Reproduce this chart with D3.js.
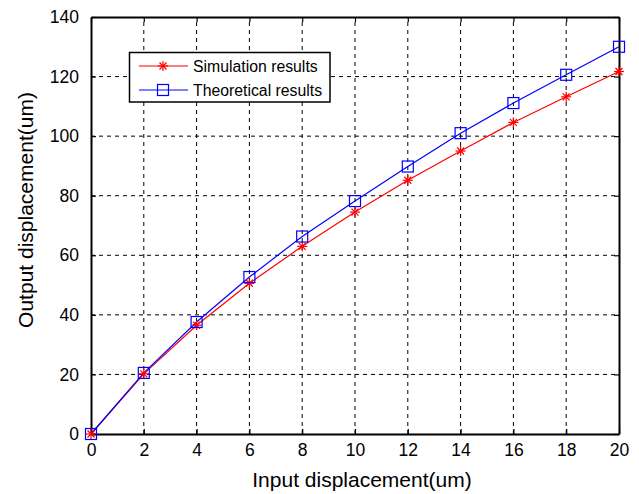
<!DOCTYPE html>
<html>
<head>
<meta charset="utf-8">
<script src="https://cdn.jsdelivr.net/npm/d3@7"></script>
<style>
  body { margin: 0; background: #fff; }
  text { font-family: "Liberation Sans", Arial, sans-serif; }
</style>
</head>
<body>
<svg id="chart" width="639" height="494"></svg>
<script>
// input displacement (um)
const inputs = [0, 2, 4, 6, 8, 10, 12, 14, 16, 18, 20];
// output displacement (um)
const simulation = [0, 20.2, 36.5, 50.6, 63, 74.5, 85.2, 95, 104.6, 113.2, 121.7];
const theoretical = [0, 20.5, 37.6, 52.7, 66.3, 78.2, 89.8, 101, 111.1, 120.6, 130];
const xTicks = [0, 2, 4, 6, 8, 10, 12, 14, 16, 18, 20];
const yTicks = [0, 20, 40, 60, 80, 100, 120, 140];

const svg = d3.select('#chart');
const pLeft = 91, pRight = 619, pTop = 17, pBottom = 434;

const x = d3.scaleLinear().domain([0, 20]).range([pLeft, pRight]);
const y = d3.scaleLinear().domain([0, 140]).range([pBottom, pTop]);

// dashed grid
const grid = svg.append('g').attr('stroke', '#000').attr('stroke-width', 1)
  .attr('stroke-dasharray', '4,4');
xTicks.slice(1, -1).forEach(t => {
  grid.append('line').attr('x1', x(t)).attr('x2', x(t)).attr('y1', pBottom).attr('y2', pTop);
});
yTicks.slice(1, -1).forEach(t => {
  grid.append('line').attr('x1', pLeft).attr('x2', pRight).attr('y1', y(t)).attr('y2', y(t));
});

// axes with inward ticks
const xAxis = svg.append('g').attr('transform', `translate(0,${pBottom})`)
  .call(d3.axisBottom(x).tickValues(xTicks).tickSizeInner(-5).tickSizeOuter(0).tickPadding(6));
const yAxis = svg.append('g').attr('transform', `translate(${pLeft},0)`)
  .call(d3.axisLeft(y).tickValues(yTicks).tickSizeInner(-5).tickSizeOuter(0).tickPadding(12));
const xTop = svg.append('g').attr('transform', `translate(0,${pTop})`)
  .call(d3.axisTop(x).tickValues(xTicks).tickSizeInner(-5).tickSizeOuter(0).tickFormat(''));
const yRight = svg.append('g').attr('transform', `translate(${pRight},0)`)
  .call(d3.axisRight(y).tickValues(yTicks).tickSizeInner(-5).tickSizeOuter(0).tickFormat(''));

[xAxis, yAxis, xTop, yRight].forEach(a => {
  a.select('.domain').attr('stroke', '#000').attr('stroke-width', 2);
  a.selectAll('.tick line').attr('stroke', '#000').attr('stroke-width', 1.2);
  a.selectAll('.tick text').attr('fill', '#000').style('font-size', '17.5px')
    .style('font-family', '"Liberation Sans", Arial, sans-serif');
});
// put x tick label baselines near y=456
xAxis.selectAll('.tick text').attr('dy', null).attr('y', 22);

// axis titles
svg.append('text').attr('x', 362).attr('y', 487)
  .attr('text-anchor', 'middle').style('font-size', '21px').text('Input displacement(um)');
svg.append('text').attr('transform', 'translate(33,210) rotate(-90)')
  .attr('text-anchor', 'middle').style('font-size', '21px').text('Output displacement(um)');

const line = d3.line().x((d, i) => x(inputs[i])).y(d => y(d));

function starMarker(g, cx, cy, color) {
  const s = 5;
  const m = g.append('g').attr('transform', `translate(${cx},${cy})`)
    .attr('stroke', color).attr('stroke-width', 1.2);
  m.append('line').attr('x1', -s).attr('x2', s).attr('y1', 0).attr('y2', 0);
  m.append('line').attr('x1', 0).attr('x2', 0).attr('y1', -s).attr('y2', s);
  m.append('line').attr('x1', -s * 0.7).attr('x2', s * 0.7).attr('y1', -s * 0.7).attr('y2', s * 0.7);
  m.append('line').attr('x1', -s * 0.7).attr('x2', s * 0.7).attr('y1', s * 0.7).attr('y2', -s * 0.7);
}
function squareMarker(g, cx, cy, color) {
  g.append('rect').attr('x', cx - 5.5).attr('y', cy - 5.5).attr('width', 11).attr('height', 11)
    .attr('fill', 'none').attr('stroke', color).attr('stroke-width', 1.2);
}

const plot = svg.append('g');
plot.append('path').datum(simulation).attr('d', line)
  .attr('fill', 'none').attr('stroke', '#ff0000').attr('stroke-width', 1.2);
plot.append('path').datum(theoretical).attr('d', line)
  .attr('fill', 'none').attr('stroke', '#0000ff').attr('stroke-width', 1.2);
simulation.forEach((v, i) => starMarker(plot, x(inputs[i]), y(v), '#ff0000'));
theoretical.forEach((v, i) => squareMarker(plot, x(inputs[i]), y(v), '#0000ff'));

// legend
const lg = svg.append('g');
lg.append('rect').attr('x', 129.5).attr('y', 52.5).attr('width', 200.5).attr('height', 49.5)
  .attr('fill', '#fff').attr('stroke', '#000').attr('stroke-width', 1.5);
const entries = [
  { label: 'Simulation results', color: '#ff0000', marker: starMarker, yy: 66 },
  { label: 'Theoretical results', color: '#0000ff', marker: squareMarker, yy: 90 }
];
entries.forEach(e => {
  lg.append('line').attr('x1', 139).attr('x2', 188).attr('y1', e.yy).attr('y2', e.yy)
    .attr('stroke', e.color).attr('stroke-width', 1.2);
  e.marker(lg, 163, e.yy, e.color);
  lg.append('text').attr('x', 193).attr('y', e.yy + 6).style('font-size', '15.8px').text(e.label);
});
</script>
</body>
</html>
